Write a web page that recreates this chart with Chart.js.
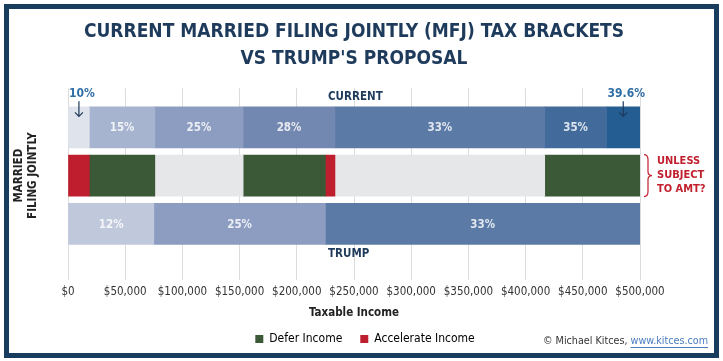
<!DOCTYPE html>
<html>
<head>
<meta charset="utf-8">
<script src="https://cdn.jsdelivr.net/npm/chart.js@4/dist/chart.umd.min.js"></script>
<style>
  html, body { margin: 0; padding: 0; background: #fff; }
  #wrap { position: relative; width: 723px; height: 361px; }
  #frame {
    position: absolute; left: 4px; top: 4px; width: 715px; height: 354px;
    border: 5px solid #173c5e; box-sizing: border-box; pointer-events: none;
  }
</style>
</head>
<body>
<div id="wrap">
  <canvas id="taxChart" width="723" height="361"></canvas>
  <div id="frame"></div>
</div>
<script>
// ---------------- DATA ----------------
const rowNames = ["CURRENT", "SHIFT", "TRUMP"];

// current 2017 MFJ brackets
const currentEdges = [0, 18650, 75900, 153100, 233350, 416700, 470700, 500000];
const currentRates = ["10%", "15%", "25%", "28%", "33%", "35%", "39.6%"];

// Trump proposal
const trumpEdges = [0, 75000, 225000, 500000];
const trumpRates = ["12%", "25%", "33%"];

// what to do with income in each band
const shiftEdges = [0, 18650, 75900, 153100, 225000, 233350, 416700, 500000];
const shiftKinds = ["accelerate", "defer", "none", "defer", "accelerate", "none", "defer"];

const xTicks = [0, 50000, 100000, 150000, 200000, 250000, 300000, 350000, 400000, 450000, 500000];

// ---------------- STYLE ----------------
const FONT = "'DejaVu Sans Condensed', 'Liberation Sans Narrow', Lato, sans-serif";
const NAVY = "#1f3b5c";

const rateColors = {
  "10%": "#dfe3ec",
  "12%": "#c0c9dc",
  "15%": "#a7b4cf",
  "25%": "#8d9dc1",
  "28%": "#7388b0",
  "33%": "#5b7aa6",
  "35%": "#426a9b",
  "39.6%": "#245d92"
};
const kindColors = { defer: "#3c5937", accelerate: "#bf1e2e", none: "#e6e7e9" };
const kindNames = { defer: "Defer Income", accelerate: "Accelerate Income" };

// ---------------- DATASETS ----------------
function bandSets(edges, names, row, colorOf, isRate) {
  return names.map((name, i) => ({
    label: name,
    data: [{ x: [edges[i], edges[i + 1]], y: row }],
    backgroundColor: colorOf(name),
    barThickness: 41,
    grouped: false,
    borderWidth: 0,
    rate: isRate ? name : null
  }));
}

const datasets = [].concat(
  bandSets(currentEdges, currentRates, 0, n => rateColors[n], true),
  bandSets(shiftEdges, shiftKinds, 1, n => kindColors[n], false),
  bandSets(trumpEdges, trumpRates, 2, n => rateColors[n], true)
);

// ---------------- PLUGINS ----------------
// nudge the legend a bit to the right, like the original
const legendShift = {
  id: "legendShift",
  afterLayout(chart) {
    if (chart.legend) {
      chart.legend.left += 11;
      chart.legend.right += 11;
    }
  }
};

const annotate = {
  id: "annotate",
  afterDatasetsDraw(chart) {
    const { ctx, chartArea, scales } = chart;
    ctx.save();
    ctx.textBaseline = "middle";

    chart.data.datasets.forEach((ds, i) => {
      if (!ds.rate) return;
      const bar = chart.getDatasetMeta(i).data[0];
      const left = Math.min(bar.x, bar.base);
      const right = Math.max(bar.x, bar.base);
      const cx = (left + right) / 2;

      if (right - left > 36) {
        ctx.font = "bold 11.5px " + FONT;
        ctx.fillStyle = "rgba(255,255,255,0.82)";
        ctx.textAlign = "center";
        ctx.fillText(ds.rate, cx, bar.y + 1);
      } else {
        // small band: label above with arrow
        ctx.font = "bold 12px " + FONT;
        ctx.fillStyle = "#2f6ea6";
        ctx.textAlign = "center";
        ctx.fillText(ds.rate, cx + 3, bar.y - 33);
        ctx.strokeStyle = "#1f3b5c";
        ctx.lineWidth = 1.2;
        ctx.beginPath();
        ctx.moveTo(cx, bar.y - 26);
        ctx.lineTo(cx, bar.y - 11);
        ctx.moveTo(cx - 4, bar.y - 15);
        ctx.lineTo(cx, bar.y - 11);
        ctx.lineTo(cx + 4, bar.y - 15);
        ctx.stroke();
      }
    });

    // row names
    const y = scales.y;
    const lx = (chartArea.left + chartArea.right) / 2 - 26;
    ctx.font = "bold 11.5px " + FONT;
    ctx.fillStyle = NAVY;
    ctx.textAlign = "left";
    ctx.fillText(rowNames[0], lx, y.getPixelForValue(0) - 30);
    ctx.fillText(rowNames[2], lx, y.getPixelForValue(2) + 30);

    // AMT brace + note
    const my = y.getPixelForValue(1);
    const bx = chartArea.right + 4;
    ctx.strokeStyle = "#c1202f";
    ctx.lineWidth = 1.2;
    ctx.beginPath();
    ctx.moveTo(bx, my - 21);
    ctx.quadraticCurveTo(bx + 4, my - 21, bx + 4, my - 16);
    ctx.lineTo(bx + 4, my - 4);
    ctx.quadraticCurveTo(bx + 4, my, bx + 8, my);
    ctx.quadraticCurveTo(bx + 4, my, bx + 4, my + 4);
    ctx.lineTo(bx + 4, my + 16);
    ctx.quadraticCurveTo(bx + 4, my + 21, bx, my + 21);
    ctx.stroke();

    ctx.fillStyle = "#c1202f";
    ctx.font = "bold 11px " + FONT;
    ctx.fillText("UNLESS", bx + 13, my - 14);
    ctx.fillText("SUBJECT", bx + 13, my);
    ctx.fillText("TO AMT?", bx + 13, my + 14);

    // side title
    ctx.save();
    ctx.translate(19, my);
    ctx.rotate(-Math.PI / 2);
    ctx.fillStyle = "#222";
    ctx.font = "bold 11.5px " + FONT;
    ctx.textAlign = "center";
    ctx.fillText("MARRIED", 0, 0);
    ctx.fillText("FILING JOINTLY", 0, 14);
    ctx.restore();

    // credit
    ctx.font = "10.7px " + FONT;
    ctx.textAlign = "left";
    const a = "\u00A9 Michael Kitces, ";
    const b = "www.kitces.com";
    const wa = ctx.measureText(a).width;
    const wb = ctx.measureText(b).width;
    const sx = 708 - wa - wb;
    ctx.fillStyle = "#333";
    ctx.fillText(a, sx, 341);
    ctx.fillStyle = "#4a7cc0";
    ctx.fillText(b, sx + wa, 341);
    ctx.strokeStyle = "#4a7cc0";
    ctx.lineWidth = 1;
    ctx.beginPath();
    ctx.moveTo(sx + wa, 347.5);
    ctx.lineTo(sx + wa + wb, 347.5);
    ctx.stroke();

    ctx.restore();
  }
};

// ---------------- CHART ----------------
const ctx = document.getElementById("taxChart").getContext("2d");

const chart = new Chart(ctx, {
  type: "bar",
  data: { datasets: datasets },
  options: {
    indexAxis: "y",
    responsive: false,
    animation: false,
    layout: { padding: { left: 68, right: 83, top: 0, bottom: 6 } },
    scales: {
      x: {
        type: "linear",
        min: 0,
        max: 500000,
        afterBuildTicks: axis => { axis.ticks = xTicks.map(v => ({ value: v })); },
        ticks: {
          callback: v => "$" + v.toLocaleString("en-US"),
          color: "#333",
          font: { family: FONT, size: 11.5 },
          padding: 5,
          maxRotation: 0,
          autoSkip: false
        },
        grid: { color: "#dcdcdc", drawTicks: false },
        border: { display: false },
        title: {
          display: true,
          text: "Taxable Income",
          color: "#222",
          font: { family: FONT, size: 11.5, weight: "bold" },
          padding: { top: 2, bottom: -5 }
        }
      },
      y: {
        type: "linear",
        reverse: true,
        offset: false,
        min: -0.81,
        max: 3.17,
        display: false
      }
    },
    plugins: {
      title: {
        display: true,
        text: ["CURRENT MARRIED FILING JOINTLY (MFJ) TAX BRACKETS", "VS TRUMP'S PROPOSAL"],
        color: NAVY,
        font: { family: FONT, size: 19, weight: "bold", lineHeight: 1.4 },
        padding: { top: 19, bottom: 16 }
      },
      legend: {
        position: "bottom",
        labels: {
          boxWidth: 8,
          boxHeight: 8,
          padding: 18,
          color: "#333",
          font: { family: FONT, size: 12 },
          generateLabels: () => ["defer", "accelerate"].map(k => ({
            text: kindNames[k],
            fillStyle: kindColors[k],
            strokeStyle: kindColors[k],
            lineWidth: 0,
            hidden: false
          }))
        }
      },
      tooltip: { enabled: false }
    }
  },
  plugins: [annotate, legendShift]
});
</script>
</body>
</html>
